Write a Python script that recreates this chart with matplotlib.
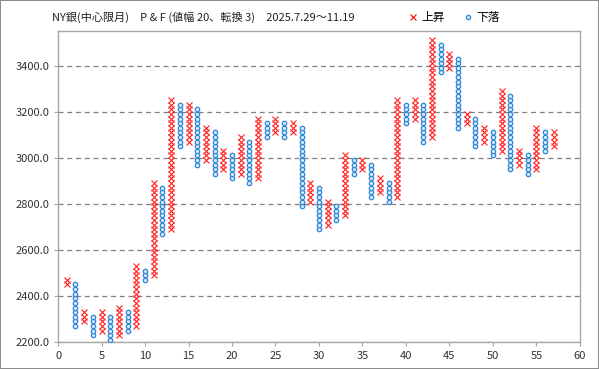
"""
NY銀 P&F chart (box 20, reversal 3), 2025.7.29-11.19
"""
import matplotlib
matplotlib.use("Agg")
import matplotlib.pyplot as plt
from matplotlib.lines import Line2D
import numpy as np

plt.rcParams["font.family"] = ["Noto Sans CJK JP", "DejaVu Sans"]

BOX = 20

# column numbers 1..57, odd = X (上昇), even = O (下落)
col_no = list(range(1, 58))
col_low = [2440, 2260, 2280, 2220, 2240, 2200, 2220, 2240, 2260, 2460,
           2480, 2660, 2680, 3040, 3060, 2960, 2980, 2920, 2940, 2900,
           2920, 2880, 2900, 3080, 3100, 3080, 3100, 2780, 2800, 2680,
           2700, 2720, 2740, 2920, 2940, 2820, 2840, 2800, 2820, 3140,
           3160, 3060, 3080, 3360, 3380, 3120, 3140, 3040, 3060, 3000,
           3020, 2940, 2960, 2920, 2940, 3020, 3040]
col_high = [2460, 2440, 2320, 2300, 2320, 2300, 2340, 2320, 2520, 2500,
            2880, 2860, 3240, 3220, 3220, 3200, 3120, 3100, 3020, 3000,
            3080, 3060, 3160, 3140, 3160, 3140, 3140, 3120, 2880, 2860,
            2800, 2780, 3000, 2980, 2980, 2960, 2900, 2880, 3240, 3220,
            3240, 3220, 3500, 3480, 3440, 3420, 3180, 3160, 3120, 3100,
            3280, 3260, 3020, 3000, 3120, 3100, 3100]

RED = "#ff2020"
BLUE = "#2f86d6"

fig = plt.figure(figsize=(5.99, 3.69), dpi=100,
                 linewidth=1.2, edgecolor="#8c8c8c")
ax = fig.add_axes([0.097, 0.073, 0.871, 0.843])

up_x, up_y, dn_x, dn_y = [], [], [], []
for c, lo, hi in zip(col_no, col_low, col_high):
    levels = np.arange(lo, hi + 1, BOX) + BOX / 2
    if c % 2 == 1:
        up_x += [c] * len(levels)
        up_y += list(levels)
    else:
        dn_x += [c] * len(levels)
        dn_y += list(levels)

ax.plot(up_x, up_y, ls="none", marker="x", ms=4.0, mew=0.8, color=RED, zorder=3)
ax.plot(dn_x, dn_y, ls="none", marker="o", ms=3.2, mew=0.9,
        mec=BLUE, mfc="#d8ebfa", zorder=3)

ax.set_xlim(0, 60)
ax.set_ylim(2200, 3550)
ax.set_xticks(range(0, 61, 5))
ax.set_yticks(range(2200, 3401, 200))
ax.yaxis.set_major_formatter(matplotlib.ticker.FormatStrFormatter("%.1f"))
ax.grid(axis="y", ls=(0, (4, 3)), color="#808080", lw=0.9)
ax.set_axisbelow(True)
for s in ax.spines.values():
    s.set_color("#a6a6a6")
    s.set_linewidth(1.0)
ax.tick_params(labelsize=8, colors="#333333", length=3, color="#a6a6a6")

fig.text(0.087, 0.952, "NY銀(中心限月)　P & F (値幅 20、転換 3)　2025.7.29～11.19",
         fontsize=8, va="center", ha="left", color="#222222")

handles = [Line2D([], [], ls="none", marker="x", ms=4, mew=0.9, color=RED),
           Line2D([], [], ls="none", marker="o", ms=3, mew=0.9, mec=BLUE, mfc="#d8ebfa")]
fig.legend(handles, ["上昇", "下落"], loc="center", bbox_to_anchor=(0.758, 0.952),
           ncol=2, frameon=False, fontsize=8.5, handlelength=0.8,
           handletextpad=0.3, columnspacing=1.6)

fig.savefig("out.png", dpi=100)
